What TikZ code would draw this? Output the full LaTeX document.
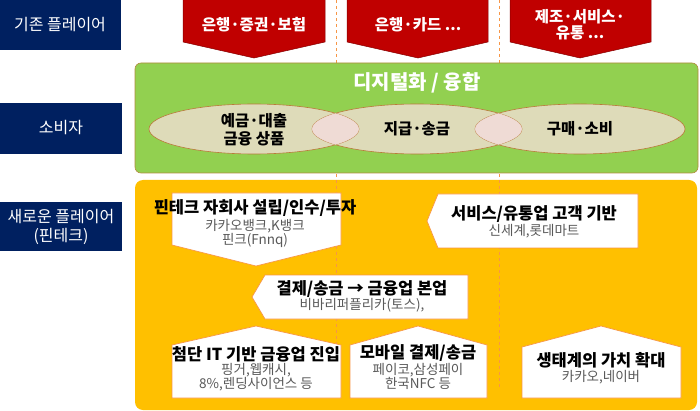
\documentclass[tikz,border=0pt]{standalone}
\usepackage{fontspec}
\setmainfont{Noto Sans CJK KR}
\usepackage{tikz}

\definecolor{navy}{HTML}{002060}
\definecolor{darkred}{HTML}{C00000}
\definecolor{leaf}{HTML}{92D050}
\definecolor{amber}{HTML}{FFC000}
\definecolor{tan}{HTML}{DEDBB9}
\definecolor{blush}{HTML}{F2DCDB}
\definecolor{rim}{HTML}{B97A3A}
\definecolor{dashline}{HTML}{F79646}
\definecolor{subgray}{HTML}{595959}

\tikzset{
  lbl/.style={text=white, font=\fontsize{16}{19}\selectfont, align=center},
  redarr/.style={fill=darkred, draw=darkred!70!black, line width=0.5pt},
  arrtxt/.style={text=white, font=\fontsize{15.5}{19}\selectfont\bfseries, align=center},
  wbox/.style={fill=white, draw=dashline, line width=0.7pt},
  ttl/.style={font=\fontsize{16.5}{18}\selectfont\bfseries},
  oval/.style={font=\fontsize{15.5}{18}\selectfont\bfseries, align=center},
  sub/.style={text=subgray, font=\fontsize{13.5}{16}\selectfont, align=center}
}

\begin{document}
\begin{tikzpicture}[x=1pt, y=-1pt, line width=0.6pt]

\useasboundingbox (0,0) rectangle (700,411);

% left labels
\fill[navy] (0,0) rectangle (121,50);
\node[lbl] (lblold) at (60,25) {기존 플레이어};
\fill[navy] (0,103) rectangle (122,154);
\node[lbl] (lbluser) at (61,128) {소비자};
\fill[navy] (0,202) rectangle (122,251);
\node[lbl] (lblnew) at (61,227) {새로운 플레이어\\(핀테크)};

% panel behind fintech players
\fill[amber, rounded corners=8pt] (135,180) rectangle (697,410);

\draw[dashline, dashed, line width=0.7pt] (336,0)--(336,387);
\draw[dashline, dashed, line width=0.7pt] (499,0)--(499,387);

% existing players
\draw[redarr] (183,-1)--(325,-1)--(325,42)--(254,58)--(183,42)--cycle;
\node[arrtxt] (arrbank) at (254,25) {은행·증권·보험};
\draw[redarr] (347,-1)--(488,-1)--(488,42)--(418,58)--(347,42)--cycle;
\node[arrtxt] (arrcard) at (418,25) {은행·카드 ...};
\draw[redarr] (510,-1)--(651,-1)--(651,42)--(580,58)--(510,42)--cycle;
\node[arrtxt] (arrshop) at (580,25) {제조·서비스·\\[-3pt]유통 ...};

% consumers
\draw[fill=leaf, draw=rim!80!leaf, rounded corners=6pt] (135,63) rectangle (698,173);
\node[text=white, font=\fontsize{20}{22}\selectfont\bfseries] (digital) at (417,83) {디지털화 / 융합};

\fill[tan] (254,129) ellipse (105 and 25);
\fill[tan] (417,129) ellipse (105 and 25);
\fill[tan] (580,129) ellipse (105 and 25);
\draw[rim] (254,129) ellipse (105 and 25);
\draw[rim] (417,129) ellipse (105 and 25);
\draw[rim] (580,129) ellipse (105 and 25);
\begin{scope}
\clip (254,129) ellipse (105 and 25);
\fill[blush, opacity=0.85] (417,129) ellipse (105 and 25);
\end{scope}
\begin{scope}
\clip (417,129) ellipse (105 and 25);
\fill[blush, opacity=0.85] (580,129) ellipse (105 and 25);
\end{scope}

\node[oval] (deposit) at (254,130) {예금·대출\\금융 상품};
\node[oval] (remit) at (417,129) {지급·송금};
\node[oval] (buy) at (580,129) {구매·소비};

% new players
\draw[wbox] (172,193)--(341,193)--(341,245)--(256,266)--(172,245)--cycle;
\node[ttl] (subsid) at (255,208) {핀테크 자회사 설립/인수/투자};
\node[sub] (subsidex) at (255,233) {카카오뱅크,K뱅크\\[-2pt]핀크(Fnnq)};

\draw[wbox] (438,194)--(638,194)--(638,248)--(438,248)--(427,221)--cycle;
\node[ttl] (retail) at (534,214) {서비스/유통업 고객 기반};
\node[sub] (retailex) at (534,231) {신세계,롯데마트};

\draw[wbox] (265,275)--(468,275)--(468,319)--(265,319)--(252,297)--cycle;
\node[ttl] (core) at (362,289) {결제/송금 → 금융업 본업};
\node[sub] (coreex) at (362,305) {비바리퍼플리카(토스),};

\draw[wbox] (172,345)--(256,326)--(341,345)--(341,398)--(172,398)--cycle;
\node[ttl] (hightech) at (256,354) {첨단 IT 기반 금융업 진입};
\node[sub] (hightechex) at (256,377) {핑거,웹캐시,\\[-2pt]8\%,렌딩사이언스 등};

\draw[wbox] (350,345)--(418,326)--(487,345)--(487,398)--(350,398)--cycle;
\node[ttl] (mobile) at (418,353) {모바일 결제/송금};
\node[sub] (mobileex) at (418,376) {페이코,삼성페이\\[-2pt]한국NFC 등};

\draw[wbox] (522,347)--(601,326)--(681,347)--(681,398)--(522,398)--cycle;
\node[ttl] (eco) at (601,360) {생태계의 가치 확대};
\node[sub] (ecoex) at (601,377) {카카오,네이버};

\end{tikzpicture}
\end{document}
